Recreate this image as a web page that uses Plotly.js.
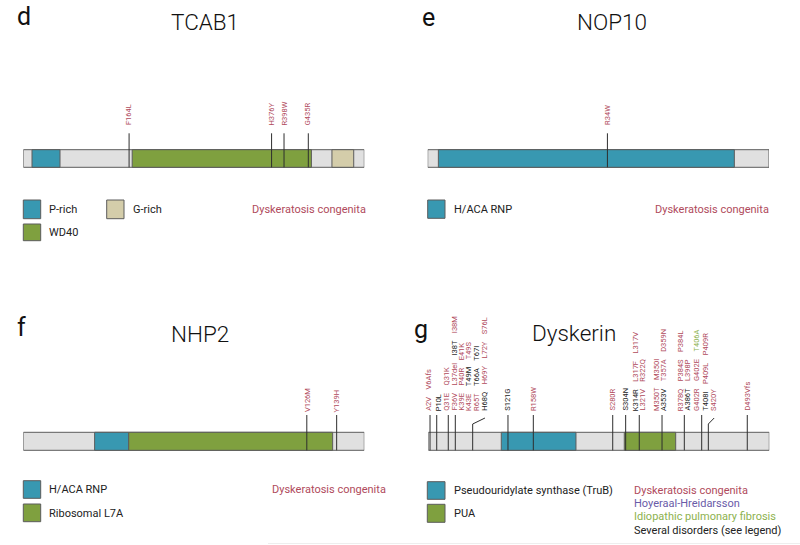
<!DOCTYPE html>
<html><head><meta charset="utf-8">
<script src="https://cdn.plot.ly/plotly-3.0.1.min.js"></script>
<style>html,body{margin:0;padding:0;background:#fff}#chart{width:800px;height:545px}</style>
</head><body><div id="chart"></div>
<script>
// ---------------- data (residue positions as drawn) ----------------
const tcab1Length = 548;
const tcab1DomainNames = ['P-rich', 'WD40', 'G-rich'];
const tcab1DomainStart = [14, 175, 496];
const tcab1DomainEnd = [59, 463, 531];
const tcab1Mutations = ['F164L', 'H376Y', 'R398W', 'G435R'];
const tcab1MutationPos = [170, 399, 419, 458];

const nop10Length = 64;
const nop10DomainNames = ['H/ACA RNP'];
const nop10DomainStart = [2];
const nop10DomainEnd = [57.5];
const nop10Mutations = ['R34W'];
const nop10MutationPos = [33.7];

const nhp2Length = 153;
const nhp2DomainNames = ['H/ACA RNP', 'Ribosomal L7A'];
const nhp2DomainStart = [32, 47.3];
const nhp2DomainEnd = [47.3, 138.8];
const nhp2Mutations = ['V126M', 'Y139H'];
const nhp2MutationPos = [127.2, 140.6];

const dkcLength = 514;
const dkcDomainNames = ['Pseudouridylate synthase (TruB)', 'PUA'];
const dkcDomainStart = [110, 295.4];
const dkcDomainEnd = [222.6, 372.9];
const dkcSitePos  = [2.6, 12.7, 30.1, 40.7, 66.9, 120.1, 158.3, 278, 297.5, 318, 352.3, 385.9, 412.1, 422.1, 480.8];
const dkcSiteBend = [null, null, null, null, 85.4, null, null, null, null, null, null, null, null, 430.9, null];
const dkcColumnPos = [1.05, 14.6, 28.2, 39.5, 50.3, 60.3, 72.9, 85.4, 120.1, 158.3, 278, 297.5,
                      311.5, 322.5, 343.7, 355.7, 379.2, 390.2, 404.4, 418.4, 430.9, 480.8];
const dkcColumnLabels = [
  ['A2V', 'V6Afs'], ['P10L'], ['Q31E', 'Q31K'], ['F36V', 'L37del', 'I38T', 'I38M'],
  ['K39E', 'P40R', 'E41K'], ['K43E', 'T49M', 'T49S'], ['R65T', 'T66A', 'T67I'],
  ['H68Q', 'H69Y', 'L72Y', 'S76L'], ['S121G'], ['R158W'], ['S280R'], ['S304N'],
  ['K314R', 'L317F', 'L317V'], ['L321V', 'R322Q'], ['M350T', 'M350I'],
  ['A353V', 'T357A', 'D359N'], ['R378Q', 'P384S', 'P384L'], ['A386T', 'L398P'],
  ['G402R', 'G402E', 'T406A'], ['T408I', 'P409L', 'P409R'], ['S420Y'], ['D493Vfs']
];
const dkcColumnDisease = [
  ['DC', 'DC'], ['SEV'], ['DC', 'DC'], ['DC', 'DC', 'SEV', 'DC'],
  ['DC', 'DC', 'DC'], ['DC', 'SEV', 'DC'], ['DC', 'SEV', 'SEV'],
  ['SEV', 'DC', 'DC', 'DC'], ['SEV'], ['DC'], ['DC'], ['SEV'],
  ['SEV', 'DC', 'DC'], ['DC', 'DC'], ['DC', 'DC'],
  ['SEV', 'DC', 'DC'], ['DC', 'DC', 'DC'], ['SEV', 'DC'],
  ['DC', 'DC', 'IPF'], ['SEV', 'DC', 'DC'], ['DC'], ['DC']
];
const diseaseNames = ['Dyskeratosis congenita', 'Hoyeraal-Hreidarsson', 'Idiopathic pulmonary fibrosis', 'Several disorders (see legend)'];
const diseaseCodes = ['DC', 'HH', 'IPF', 'SEV'];

// ---------------- styling ----------------
const W = 800, H = 545;
const fy = p => 1 - p / H;
const fx = p => p / W;
const C = { teal: '#3898b1', green: '#7fa03f', tan: '#d4cdaa', grey: '#e0e0e0', edge: '#5c5c5c', stick: '#2e2e2e' };
const DIS = { DC: '#b04a5c', HH: '#6a5ba8', IPF: '#8db24e', SEV: '#222222' };
const FONT = 'Roboto, "Open Sans", "DejaVu Sans", sans-serif';
const NB = '\u00A0\u00A0\u00A0\u00A0';

const shapes = [];
const annotations = [];

function txt(x, y, text, opts) {
  annotations.push(Object.assign({
    xref: 'paper', yref: 'paper', x: fx(x), y: fy(y), text: text, showarrow: false,
    xanchor: 'left', yanchor: 'middle', borderpad: 0,
    font: { family: FONT, size: 11, color: '#222' }
  }, opts || {}));
}
function box(x0, y0, x1, y1, color) {
  shapes.push({ type: 'rect', xref: 'paper', yref: 'paper', x0: fx(x0), x1: fx(x1), y0: fy(y1), y1: fy(y0),
    fillcolor: color, line: { color: C.edge, width: 1 } });
}

function protein(xa, len, starts, ends, colors, barTop, barBot) {
  shapes.push({ type: 'rect', xref: xa, yref: 'paper', x0: 0, x1: len, y0: fy(barBot), y1: fy(barTop),
    fillcolor: C.grey, line: { color: C.edge, width: 1 } });
  starts.forEach((s, i) => shapes.push({ type: 'rect', xref: xa, yref: 'paper', x0: s, x1: ends[i],
    y0: fy(barBot), y1: fy(barTop), fillcolor: colors[i], line: { color: C.edge, width: 1 } }));
}
function stick(xa, pos, barBot, top) {
  shapes.push({ type: 'line', xref: xa, yref: 'paper', x0: pos, x1: pos, y0: fy(barBot), y1: fy(top),
    line: { color: C.stick, width: 1 } });
}
function vlabel(xa, pos, bottom, html, color) {
  annotations.push({ xref: xa, yref: 'paper', x: pos, y: fy(bottom), text: html, textangle: -90,
    xanchor: 'center', yanchor: 'bottom', showarrow: false, borderpad: 0,
    font: { family: FONT, size: 7.5, color: color || DIS.DC } });
}

// ---- panel d: TCAB1
protein('x', tcab1Length, tcab1DomainStart, tcab1DomainEnd, [C.teal, C.green, C.tan], 149.7, 167.3);
tcab1MutationPos.forEach((p, i) => { stick('x', p, 167.3, 133.3); vlabel('x', p, 126.5, tcab1Mutations[i]); });
// ---- panel e: NOP10
protein('x2', nop10Length, nop10DomainStart, nop10DomainEnd, [C.teal], 149.7, 167.3);
nop10MutationPos.forEach((p, i) => { stick('x2', p, 167.3, 133.3); vlabel('x2', p, 125.5, nop10Mutations[i]); });
// ---- panel f: NHP2
protein('x3', nhp2Length, nhp2DomainStart, nhp2DomainEnd, [C.teal, C.green], 432.3, 450.3);
nhp2MutationPos.forEach((p, i) => { stick('x3', p, 450.3, 415); vlabel('x3', p, 413.3, nhp2Mutations[i]); });
// ---- panel g: Dyskerin
protein('x4', dkcLength, dkcDomainStart, dkcDomainEnd, [C.teal, C.green], 432.3, 450.3);
dkcSitePos.forEach((p, i) => {
  if (dkcSiteBend[i] === null) { stick('x4', p, 450.3, 415); }
  else {
    stick('x4', p, 450.3, 424);
    shapes.push({ type: 'line', xref: 'x4', yref: 'paper', x0: p, x1: dkcSiteBend[i], y0: fy(424), y1: fy(418),
      line: { color: C.stick, width: 1 } });
  }
});
dkcColumnPos.forEach((p, i) => {
  const html = dkcColumnLabels[i].map((l, j) =>
    '<span style="color:' + DIS[dkcColumnDisease[i][j]] + '">' + l + '</span>').join(NB);
  vlabel('x4', p, 411.8, html);
});

// ---------------- titles ----------------
const titleFont = { family: FONT, size: 22.5, color: '#111', weight: 300 };
const letterFont = { family: FONT, size: 25, color: '#111' };
txt(205, 22, 'TCAB1', { xanchor: 'center', font: titleFont });
txt(611.7, 22, 'NOP10', { xanchor: 'center', font: titleFont });
txt(200, 334, 'NHP2', { xanchor: 'center', font: titleFont });
txt(574, 333, 'Dyskerin', { xanchor: 'center', font: titleFont });
txt(16, 1, 'd', { yanchor: 'top', font: letterFont });
txt(421, 2, 'e', { yanchor: 'top', font: letterFont });
txt(16, 312, 'f', { yanchor: 'top', font: letterFont });
txt(413, 314, 'g', { yanchor: 'top', font: letterFont });

// ---------------- legends ----------------
box(23.3, 200, 40.7, 218.7, C.teal); txt(48.3, 209.5, tcab1DomainNames[0]);
box(23.3, 224, 40.7, 240.7, C.green); txt(48.3, 232.3, tcab1DomainNames[1]);
box(106.7, 200, 124, 218.7, C.tan); txt(131.7, 209.5, tcab1DomainNames[2]);
txt(366.7, 209.5, diseaseNames[0], { xanchor: 'right', font: { family: FONT, size: 11, color: DIS.DC } });

box(427.7, 200, 445, 218.3, C.teal); txt(453, 209.5, nop10DomainNames[0]);
txt(770, 209.5, diseaseNames[0], { xanchor: 'right', font: { family: FONT, size: 11, color: DIS.DC } });

box(23.3, 480.7, 40.7, 498.3, C.teal); txt(48.3, 489.5, nhp2DomainNames[0]);
box(23.3, 504, 40.7, 521.7, C.green); txt(48.3, 513, nhp2DomainNames[1]);
txt(386.7, 489.5, diseaseNames[0], { xanchor: 'right', font: { family: FONT, size: 11, color: DIS.DC } });

box(427.3, 481.7, 445, 499.3, C.teal); txt(452.7, 490.5, dkcDomainNames[0]);
box(427.3, 504.3, 445, 522.3, C.green); txt(452.7, 513.3, dkcDomainNames[1]);
diseaseCodes.forEach((c, i) => txt(632.7, 490 + i * 13.35, diseaseNames[i],
  { font: { family: FONT, size: 11, color: DIS[c] } }));

// faint rule at the bottom of the original figure
shapes.push({ type: 'line', xref: 'paper', yref: 'paper', x0: fx(268), x1: 1, y0: fy(543.5), y1: fy(543.5),
  line: { color: '#eeeeee', width: 1 } });

// ---------------- axes ----------------
function xax(l, r, len, anchor) {
  return { domain: [fx(l), fx(r)], range: [0, len], visible: false, fixedrange: true, anchor: anchor };
}
function yax(anchor) { return { domain: [0, 1], range: [0, 1], visible: false, fixedrange: true, anchor: anchor }; }

const layout = {
  width: W, height: H, margin: { l: 0, r: 0, t: 0, b: 0 },
  paper_bgcolor: '#fff', plot_bgcolor: 'rgba(0,0,0,0)', showlegend: false,
  xaxis: xax(23.3, 364.3, tcab1Length, 'y'), yaxis: yax('x'),
  xaxis2: xax(427.7, 769, nop10Length, 'y2'), yaxis2: yax('x2'),
  xaxis3: xax(23.3, 364.3, nhp2Length, 'y3'), yaxis3: yax('x3'),
  xaxis4: xax(428.3, 769.3, dkcLength, 'y4'), yaxis4: yax('x4'),
  shapes: shapes, annotations: annotations
};
const traces = [['x', 'y'], ['x2', 'y2'], ['x3', 'y3'], ['x4', 'y4']].map(a =>
  ({ type: 'scatter', x: [], y: [], xaxis: a[0], yaxis: a[1], hoverinfo: 'skip' }));
Plotly.newPlot('chart', traces, layout, { staticPlot: true, displayModeBar: false });
</script></body></html>
